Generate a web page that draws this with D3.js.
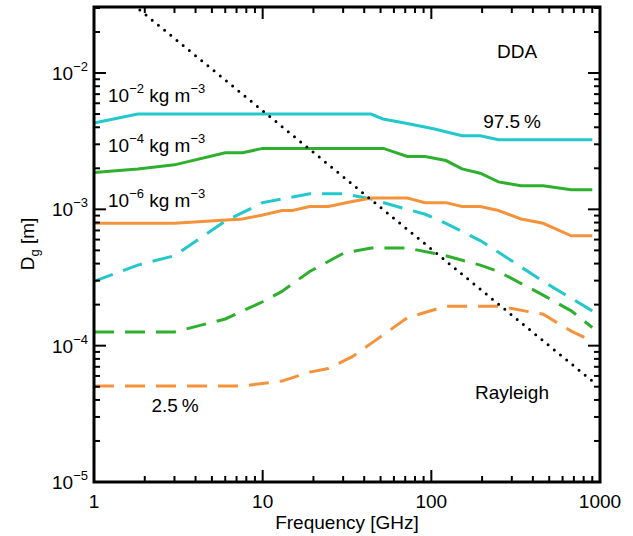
<!DOCTYPE html>
<html><head><meta charset="utf-8">
<script src="https://cdn.jsdelivr.net/npm/d3@7"></script>
<style>body{margin:0;background:#fff}text{font-family:"Liberation Sans",Arial,sans-serif}</style>
</head><body>
<script>
// frequency [GHz] and D_g [m]
const cyanSolidX = [1, 1.82, 43.8, 51.7, 72, 103, 152, 195, 250, 900];
const cyanSolidY = [4.3e-3, 5.0e-3, 5.0e-3, 4.6e-3, 4.26e-3, 3.9e-3, 3.47e-3, 3.47e-3, 3.24e-3, 3.24e-3];
const greenSolidX = [1, 1.82, 3, 6, 7.6, 10, 52, 72, 92, 122, 152, 195, 250, 340, 460, 675, 900];
const greenSolidY = [1.86e-3, 1.98e-3, 2.12e-3, 2.6e-3, 2.6e-3, 2.8e-3, 2.8e-3, 2.44e-3, 2.44e-3, 2.28e-3, 1.98e-3, 1.84e-3, 1.59e-3, 1.49e-3, 1.49e-3, 1.39e-3, 1.39e-3];
const orangeSolidX = [1, 3, 7.6, 10, 13, 15, 19, 24.5, 34, 44, 72, 92, 122, 152, 195, 250, 340, 460, 675, 900];
const orangeSolidY = [7.9e-4, 7.9e-4, 8.5e-4, 9.1e-4, 9.8e-4, 9.8e-4, 1.05e-3, 1.05e-3, 1.14e-3, 1.21e-3, 1.21e-3, 1.12e-3, 1.12e-3, 1.05e-3, 1.05e-3, 9.8e-4, 8.5e-4, 7.9e-4, 6.4e-4, 6.4e-4];
const cyanDashX = [1, 1.82, 3, 6, 10, 19, 30.5, 44, 72, 92, 122, 195, 250, 460, 900];
const cyanDashY = [2.96e-4, 3.9e-4, 4.57e-4, 8.2e-4, 1.12e-3, 1.3e-3, 1.3e-3, 1.19e-3, 1.0e-3, 9.2e-4, 7.9e-4, 5.9e-4, 4.85e-4, 2.96e-4, 1.8e-4];
const greenDashX = [1, 3, 6, 10, 13, 19, 30.5, 44, 72, 122, 195, 250, 460, 675, 900];
const greenDashY = [1.26e-4, 1.26e-4, 1.57e-4, 2.1e-4, 2.5e-4, 3.5e-4, 4.8e-4, 5.2e-4, 5.2e-4, 4.57e-4, 3.9e-4, 3.5e-4, 2.35e-4, 1.8e-4, 1.36e-4];
const orangeDashX = [1, 7.6, 13, 19, 24.5, 34, 44, 72, 122, 250, 460, 675, 900];
const orangeDashY = [5.06e-5, 5.06e-5, 5.5e-5, 6.4e-5, 6.8e-5, 8.3e-5, 1.04e-4, 1.6e-4, 1.95e-4, 1.95e-4, 1.7e-4, 1.28e-4, 1.08e-4];
const rayleighX = [1.87, 900];
const rayleighY = [2.9e-2, 5.5e-5];
const xTicks = [1, 10, 100, 1000];
const yTicks = [-5, -4, -3, -2];

const width = 633, height = 536;
const margin = {top: 7, right: 33, bottom: 54, left: 94};
const cyan = "#22c8cc", green = "#2eb02e", orange = "#f5933c";

const x = d3.scaleLog().domain([1, 1000]).range([margin.left, width - margin.right]);
const y = d3.scaleLog().domain([1e-5, 3.05e-2]).range([height - margin.bottom, margin.top]);

const svg = d3.select("body").append("svg").attr("width", width).attr("height", height);

const line = d3.line().x(d => x(d[0])).y(d => y(d[1]));
const series = [
  [cyanDashX, cyanDashY, cyan, "20,11"],
  [greenDashX, greenDashY, green, "20,11"],
  [orangeDashX, orangeDashY, orange, "20,11"],
  [cyanSolidX, cyanSolidY, cyan, null],
  [greenSolidX, greenSolidY, green, null],
  [orangeSolidX, orangeSolidY, orange, null],
];
series.forEach(([xs, ys, c, dash]) => {
  svg.append("path")
    .attr("d", line(xs.map((v, i) => [v, ys[i]])))
    .attr("fill", "none").attr("stroke", c).attr("stroke-width", 3)
    .attr("stroke-dasharray", dash);
});
svg.append("path")
  .attr("d", line(rayleighX.map((v, i) => [v, rayleighY[i]])))
  .attr("fill", "none").attr("stroke", "#000").attr("stroke-width", 3)
  .attr("stroke-dasharray", "0,8").attr("stroke-linecap", "round");

// frame and ticks
const x0 = margin.left, x1 = width - margin.right, y0 = height - margin.bottom, y1 = margin.top;
const ax = svg.append("g").attr("stroke", "#000").attr("stroke-width", 2);
ax.append("rect").attr("x", x0).attr("y", y1).attr("width", x1 - x0).attr("height", y0 - y1).attr("fill", "none").attr("stroke-width", 3);
const xMinor = [];
for (let d = 1; d < 1000; d *= 10) for (let k = 1; k < 10; k++) xMinor.push(d * k);
xMinor.forEach(v => {
  const L = (xTicks.includes(v)) ? 12 : 6;
  ax.append("line").attr("x1", x(v)).attr("x2", x(v)).attr("y1", y0).attr("y2", y0 - L);
  ax.append("line").attr("x1", x(v)).attr("x2", x(v)).attr("y1", y1).attr("y2", y1 + L);
});
for (let e = -5; e <= -2; e++) for (let k = 1; k < 10; k++) {
  const v = k * Math.pow(10, e);
  if (v > 3.05e-2) continue;
  const L = k === 1 ? 12 : 6;
  ax.append("line").attr("x1", x0).attr("x2", x0 + L).attr("y1", y(v)).attr("y2", y(v));
  ax.append("line").attr("x1", x1).attr("x2", x1 - L).attr("y1", y(v)).attr("y2", y(v));
}

svg.selectAll(".xt").data(xTicks).join("text")
  .attr("x", d => x(d)).attr("y", y0 + 26).attr("text-anchor", "middle")
  .attr("font-size", 19).text(d => d);
yTicks.forEach(e => {
  const t = svg.append("text").attr("x", x0 - 6).attr("y", y(Math.pow(10, e)) + 7)
    .attr("text-anchor", "end").attr("font-size", 19);
  t.append("tspan").text("10");
  t.append("tspan").attr("dy", -9).attr("font-size", 13).text("\u2212" + (-e));
});
svg.append("text").attr("x", (x0 + x1) / 2).attr("y", 529).attr("text-anchor", "middle")
  .attr("font-size", 19).text("Frequency [GHz]");
const yl = svg.append("text").attr("transform", "translate(34,244) rotate(-90)")
  .attr("text-anchor", "middle").attr("font-size", 19);
yl.append("tspan").text("D");
yl.append("tspan").attr("dy", 5).attr("font-size", 13).text("g");
yl.append("tspan").attr("dy", -5).text(" [m]");

const labels = [["DDA", 517, 58, "middle"], ["97.5\u2009%", 512, 128, "middle"], ["Rayleigh", 512, 399, "middle"], ["2.5\u2009%", 175, 412, "middle"]];
labels.forEach(([s, lx, ly, a]) => svg.append("text").attr("x", lx).attr("y", ly).attr("text-anchor", a).attr("font-size", 19).text(s));
[["\u22122", 102], ["\u22124", 152], ["\u22126", 207]].forEach(([e, ly]) => {
  const t = svg.append("text").attr("x", 108).attr("y", ly).attr("font-size", 19);
  t.append("tspan").text("10");
  t.append("tspan").attr("dy", -9).attr("font-size", 13).text(e);
  t.append("tspan").attr("dy", 9).text(" kg m");
  t.append("tspan").attr("dy", -9).attr("font-size", 13).text("\u22123");
});
</script>
</body></html>
